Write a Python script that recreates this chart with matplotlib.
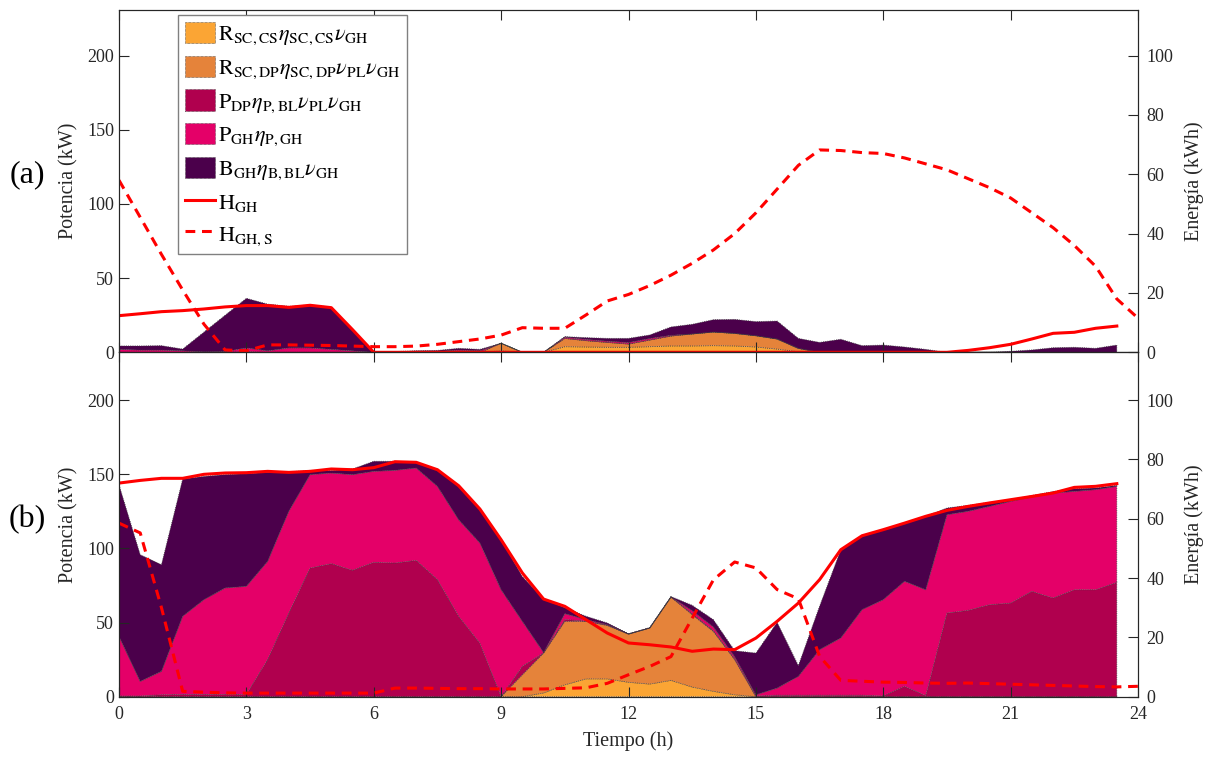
import numpy as np
import matplotlib
matplotlib.use('Agg')
import matplotlib.pyplot as plt

plt.rcParams['font.family'] = ['Liberation Serif', 'DejaVu Serif']
plt.rcParams['font.size'] = 13
plt.rcParams['mathtext.fontset'] = 'stix'

# half-hour steps
hours = np.arange(0, 24, 0.5)
hours_s = np.arange(0, 24.5, 0.5)

# (a) power contributions to the greenhouse, kW
a_r_cs = [0, 0, 0, 0, 0, 0, 0, 0, 0, 0, 0, 0, 0, 0, 0, 0, 0, 0, 1, 0, 0, 3.8, 3.6, 3.4,
          3.4, 3.8, 4.3, 4.3, 4.5, 4.3, 3.6, 2.2, 0.4, 0, 0, 0, 0, 0, 0, 0, 0, 0, 0, 0, 0, 0, 0, 0]
a_r_dp = [0, 0, 0, 0, 0, 0, 0, 0, 0, 0, 0, 0, 0, 0, 0, 0, 0, 0, 5.1, 0, 0, 5.6, 4.3, 3.3,
          2.2, 4.5, 6.7, 8.1, 9.2, 8.5, 7.6, 6.8, 2.3, 0, 0, 0, 0, 0, 0, 0, 0, 0, 0, 0, 0, 0, 0, 0]
a_p_dp = [0, 0, 0, 0, 0, 0, 0.5, 0, 0, 0, 0, 0, 0, 0, 0, 0, 0, 0, 0, 0, 0, 0, 0, 0,
          0, 0, 0, 0, 0, 0, 0, 0, 0, 0, 0, 0, 0, 0, 0, 0, 0, 0, 0, 0, 0, 0, 0, 0]
a_p_gh = [2, 1.5, 1.5, 1, 0.3, 0.5, 2.5, 1, 3, 3, 2, 1, 0, 0, 0.3, 0.6, 1.5, 1, 0, 0, 0, 0.8, 0.8, 0.8,
          1, 1, 0.5, 0, 0, 0, 0, 0, 0, 0, 0, 0, 0, 0, 0, 0, 0, 0, 0, 0, 0, 0, 0, 0]
a_b_gh = [2.3, 2.8, 3.0, 1.2, 13.3, 24.5, 33.4, 31.5, 28, 29, 28.5, 14, 0, 0.5, 0.8, 0.7, 1.2, 1, 0, 0, 0, 0.4, 1.2, 1.9,
          2.8, 2.4, 5.6, 6.5, 8.3, 9.4, 9.5, 12.1, 6.7, 6.7, 8.8, 4.5, 4.9, 3.6, 2, 0, 0, 0, 0.7, 1.6, 3.1, 3.4, 2.7, 4.9]
a_h_gh = [24.7, 26, 27.4, 28.1, 29.2, 30.6, 31.5, 31.5, 30.3, 31.7, 30.1, 15.3, 0, 0, 0, 0, 0, 0, 0, 0, 0, 0, 0, 0,
          0, 0, 0, 0, 0, 0, 0, 0, 0, 0, 0, 0, 0, 0, 0, 0, 1.3, 3.1, 5.4, 9, 12.8, 13.5, 16.2, 17.7]
# stored energy, kWh
a_h_gh_s = [58, 45.5, 33, 21, 9.5, 0.8, 0.5, 2.5, 2.5, 2.4, 2.3, 2.1, 1.9, 1.9, 2.1, 2.7, 3.6, 4.5, 5.8, 8.3, 8.1, 8.1,
            12.6, 17.3, 19.5, 22.5, 26, 30, 34.5, 40, 47, 55, 63, 68.2, 68, 67.3, 67, 65.5, 63.5, 61.5, 58.5, 55.5,
            52, 47, 42, 36, 29, 18, 11.5]

# (b)
b_r_cs = [0, 0, 0, 0, 0, 0, 0, 0, 0, 0, 0, 0, 0, 0, 0, 0, 0, 0, 0, 0, 2.5, 8, 12, 12,
          9.7, 8.5, 11, 6.5, 3.6, 1.3, 0, 0, 0, 0, 0, 0, 0, 0, 0, 0, 0, 0, 0, 0, 0, 0, 0, 0]
b_r_dp = [0, 0, 0, 0, 0, 0, 0, 0, 0, 0, 0, 0, 0, 0, 0, 0, 0, 0, 0, 14.8, 26.9, 42.8, 38.8, 36,
          32.5, 37.8, 56.2, 48.8, 40.4, 23.7, 0, 0, 0, 0, 0, 0, 0, 0, 0, 0, 0, 0, 0, 0, 0, 0, 0, 0]
b_p_dp = [0.5, 0.5, 1.3, 1.5, 1.5, 1.5, 1.5, 25, 56.4, 86.7, 89.7, 85.2, 90.6, 90.1, 91.9, 78.9, 54.2, 36, 0, 5.6,
          0.2, 1.2, 0.2, 0.3, 0, 0, 0, 0.7, 0.5, 0.5, 0.5, 1, 1, 1, 1, 1, 0.5, 7, 0.7, 56.4,
          58.2, 62, 63.1, 71, 66.5, 72.1, 72.1, 77]
b_p_gh = [40.2, 9.8, 15.8, 52.7, 63.9, 71.8, 72.9, 66.2, 68.6, 63, 61.1, 64.5, 61.3, 62.5, 62.3, 62.9, 65.1, 67.6,
          72.1, 30.4, 0.2, 4, 1, 0.3, 0, 0, 0, 2, 2.5, 1.5, 0.8, 4.8, 12.7, 30.7, 38.6, 57.7, 64.9, 70.8,
          71.4, 66.3, 66.8, 66.3, 68.6, 63.6, 70.8, 66.3, 67.5, 64.8]
b_b_gh = [102.2, 85.4, 71.9, 92.5, 83.1, 76.4, 75.9, 60, 26.5, 2.9, 1.6, 3.8, 6.8, 6.1, 3.3, 11.7, 22.5, 22.4,
          33.7, 30.2, 36, 4, 2.2, 1.1, 0.3, 0.3, 0.3, 3.6, 4.9, 4, 28.1, 44.3, 7.2, 29.3, 59.4, 49.3, 47.2, 39.2,
          49.5, 4.5, 4, 2.7, 1.1, 1.0, 1.0, 1.8, 1.1, 0.7]
b_h_gh = [144, 145.8, 147.2, 147.2, 149.9, 150.8, 151, 151.9, 151.2, 151.9, 153.5, 153, 154.4, 158.4, 158, 153,
          142.2, 126.5, 105.8, 83.4, 65.8, 60.9, 51.9, 42.9, 36.2, 35, 33.5, 30.6, 32.1, 31.7, 39.5, 50.8,
          63.1, 78.9, 99.1, 108.5, 112.6, 117, 121.6, 125.6, 128.3, 130.6, 132.8, 135, 137.3, 141.1, 141.8, 143.6]
b_h_gh_s = [58.5, 55.2, 30, 1.8, 1.5, 1.3, 1.2, 1.2, 1.2, 1.2, 1.2, 1.2, 1.2, 2.9, 2.9, 2.8, 2.7, 2.7, 2.6, 2.6,
            2.6, 2.8, 3.0, 4.5, 7.4, 10.2, 13.5, 26.5, 39.4, 45.4, 43.4, 36.1, 33, 13.6, 5.5, 5.2, 4.9, 4.8,
            4.6, 4.5, 4.6, 4.4, 4.2, 4.0, 3.8, 3.6, 3.4, 3.3, 3.5]

colors = ['#fba534', '#e5833a', '#b0004e', '#e40068', '#4b004b']
labels = [r'$\mathrm{R}_{\mathrm{SC,CS}}\eta_{\mathrm{SC,CS}}\nu_{\mathrm{GH}}$',
          r'$\mathrm{R}_{\mathrm{SC,DP}}\eta_{\mathrm{SC,DP}}\nu_{\mathrm{PL}}\nu_{\mathrm{GH}}$',
          r'$\mathrm{P}_{\mathrm{DP}}\eta_{\mathrm{P,BL}}\nu_{\mathrm{PL}}\nu_{\mathrm{GH}}$',
          r'$\mathrm{P}_{\mathrm{GH}}\eta_{\mathrm{P,GH}}$',
          r'$\mathrm{B}_{\mathrm{GH}}\eta_{\mathrm{B,BL}}\nu_{\mathrm{GH}}$',
          r'$\mathrm{H}_{\mathrm{GH}}$',
          r'$\mathrm{H}_{\mathrm{GH,S}}$']
axcol = '#262626'


def draw_panel(ax, layers, h_gh, h_gh_s, ytop):
    polys = ax.stackplot(hours, *layers, colors=colors, edgecolor='#404040',
                         linestyle=':', linewidth=0.6)
    line, = ax.plot(hours, h_gh, color='red', lw=2.2)
    ax.set_xlim(0, 24)
    ax.set_ylim(0, ytop)
    ax.set_xticks(range(0, 25, 3))
    ax.set_yticks(range(0, 201, 50))
    ax.tick_params(direction='in', length=7, top=True, colors=axcol)
    ax.tick_params(axis='x', pad=7)
    ax.set_ylabel('Potencia (kW)', color=axcol, fontsize=14.5, labelpad=6)
    for s in ax.spines.values():
        s.set_color(axcol)

    ax2 = ax.twinx()
    dash, = ax2.plot(hours_s, h_gh_s, color='red', lw=2.2, dashes=(3.2, 2.2))
    ax2.set_ylim(0, ytop / 2)
    ax2.set_yticks(range(0, 101, 20))
    ax2.tick_params(direction='in', length=7, colors=axcol, pad=6)
    ax2.set_ylabel('Energía (kWh)', color=axcol, fontsize=14.5, labelpad=8)
    for s in ax2.spines.values():
        s.set_color(axcol)
    return polys, line, dash


fig = plt.figure(figsize=(12.13, 7.58), dpi=100)
ax_a = fig.add_axes([0.0981, 0.5352, 0.8401, 0.4516])
ax_b = fig.add_axes([0.0981, 0.0809, 0.8401, 0.4544])

polys, line, dash = draw_panel(ax_a, [a_r_cs, a_r_dp, a_p_dp, a_p_gh, a_b_gh],
                               a_h_gh, a_h_gh_s, 230.7)
ax_a.tick_params(labelbottom=False)
draw_panel(ax_b, [b_r_cs, b_r_dp, b_p_dp, b_p_gh, b_b_gh], b_h_gh, b_h_gh_s, 232.2)
ax_b.set_xlabel('Tiempo (h)', color=axcol, fontsize=14.5, labelpad=6)

leg = ax_a.legend(list(polys) + [line, dash], labels, loc='upper left',
                  bbox_to_anchor=(0.058, 0.985), borderaxespad=0, fontsize=16,
                  frameon=True, fancybox=False, framealpha=1, edgecolor='#808080',
                  handlelength=1.35, handleheight=1.1, labelspacing=0.38,
                  borderpad=0.3, handletextpad=0.15)
leg.set_zorder(10)
leg.get_frame().set_linewidth(1.0)

fig.text(27 / 1213, 1 - 175 / 758, '(a)', fontsize=23, ha='center', va='center')
fig.text(27 / 1213, 1 - 520 / 758, '(b)', fontsize=23, ha='center', va='center')

fig.savefig('out.png', dpi=100)
